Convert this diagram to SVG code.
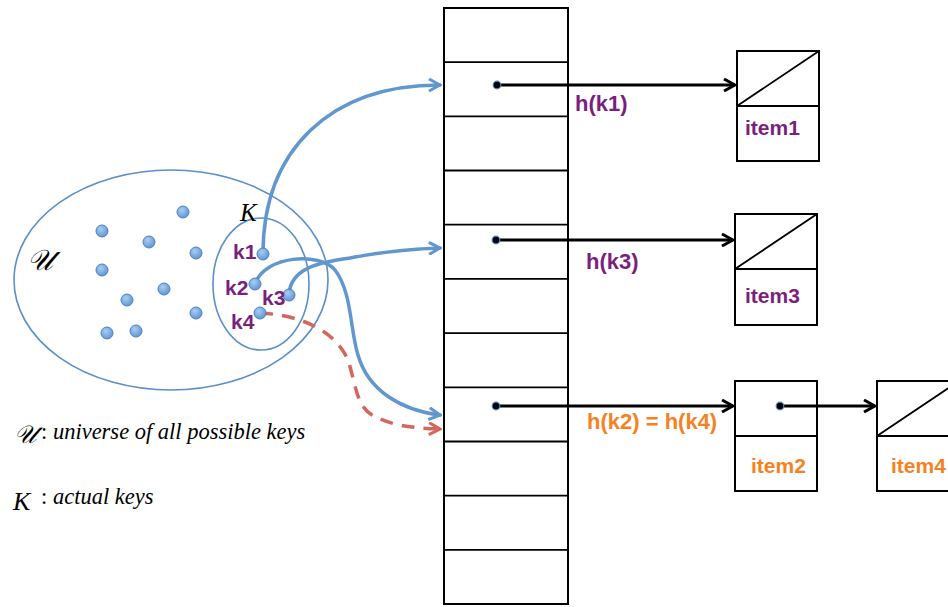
<svg xmlns="http://www.w3.org/2000/svg" width="948" height="607" viewBox="0 0 948 607">
<style>
.lab{font-family:"Liberation Sans",Arial,sans-serif;font-weight:bold;font-size:21px}
.pur{fill:#7b1f7e}
.org{fill:#f7811f}
.ser{font-family:"Liberation Serif","Times New Roman",serif;font-style:italic}
.ell{fill:none;stroke:#5b8fc9;stroke-width:1.6}
.dot{fill:url(#dg);stroke:#4d80c0;stroke-width:1}
.box{fill:#fff;stroke:#000;stroke-width:2}
.ln{stroke:#000;stroke-width:1.8;fill:none}
.blue{fill:none;stroke:#6196cf;stroke-width:3.5;stroke-linecap:round}
.red{fill:none;stroke:#d4675d;stroke-width:3.5;stroke-dasharray:13 9}
.blk{fill:none;stroke:#000;stroke-width:3.2}
</style>
<defs>
<radialGradient id="dg" cx="0.4" cy="0.35" r="0.7">
<stop offset="0" stop-color="#a9cdf2"/>
<stop offset="1" stop-color="#5c93d3"/>
</radialGradient>
<marker id="ab" viewBox="0 0 14 14" refX="12" refY="7" markerWidth="14" markerHeight="14" markerUnits="userSpaceOnUse" orient="auto">
<path d="M1,1 L12,7 L1,13" fill="none" stroke="#6196cf" stroke-width="3"/>
</marker>
<marker id="ar" viewBox="0 0 14 14" refX="12" refY="7" markerWidth="14" markerHeight="14" markerUnits="userSpaceOnUse" orient="auto">
<path d="M1,1 L12,7 L1,13" fill="none" stroke="#d4675d" stroke-width="3"/>
</marker>
<marker id="ak" viewBox="0 0 14 14" refX="12" refY="7" markerWidth="14" markerHeight="14" markerUnits="userSpaceOnUse" orient="auto">
<path d="M1,1 L12,7 L1,13" fill="none" stroke="#000" stroke-width="3"/>
</marker>
</defs>

<g id="universe">
<ellipse class="ell" cx="171" cy="280" rx="157" ry="110"/>
<text x="27" y="270" class="ser" font-size="29">𝒰</text>
<circle class="dot" cx="102" cy="231" r="6"/>
<circle class="dot" cx="183" cy="212" r="6"/>
<circle class="dot" cx="149" cy="242" r="6"/>
<circle class="dot" cx="196" cy="253" r="6"/>
<circle class="dot" cx="102" cy="270" r="6"/>
<circle class="dot" cx="164" cy="289" r="6"/>
<circle class="dot" cx="127" cy="300" r="6"/>
<circle class="dot" cx="196" cy="313" r="6"/>
<circle class="dot" cx="107" cy="333" r="6"/>
<circle class="dot" cx="136" cy="331" r="6"/>
</g>

<g id="keys">
<ellipse class="ell" cx="261" cy="284" rx="48" ry="66"/>
<text x="240" y="221" class="ser" font-size="25">K</text>
</g>

<g id="table">
<rect class="box" x="444" y="8" width="124" height="596"/>
<path class="ln" d="M444,62.2H568M444,116.4H568M444,170.5H568M444,224.7H568M444,278.9H568M444,333.1H568M444,387.3H568M444,441.5H568M444,495.6H568M444,549.8H568"/>
</g>

<g id="item1">
<rect class="box" x="737" y="51" width="82" height="110"/>
<path class="ln" d="M737,106H819M737,106L819,51"/>
<text x="745" y="135" class="lab pur">item1</text>
</g>
<g id="item3">
<rect class="box" x="735" y="214" width="82" height="111"/>
<path class="ln" d="M735,269H817M735,269L817,214"/>
<text x="745" y="303" class="lab pur">item3</text>
</g>
<g id="item2">
<rect class="box" x="735" y="381" width="82" height="110"/>
<path class="ln" d="M735,436H817"/>
<text x="751" y="473" class="lab org">item2</text>
</g>
<g id="item4">
<rect class="box" x="877" y="381" width="82" height="110"/>
<path class="ln" d="M877,436H959M877,436L959,381"/>
<text x="891" y="473" class="lab org">item4</text>
</g>

<g id="connectors">
<path class="blue" d="M263,254 C263,150 330,85 440,85" marker-end="url(#ab)"/>
<path class="blue" d="M289,295 C290,268 320,262 350,258 C380,252 410,249 440,248" marker-end="url(#ab)"/>
<path class="blue" d="M255,284 C265,255 320,252 335,270 C352,292 350,330 358,355 C368,390 400,410 440,415" marker-end="url(#ab)"/>
<path class="red" d="M260,313 C300,315 335,330 348,360 C356,385 356,405 372,415 C390,425 410,428 440,429" marker-end="url(#ar)"/>
<path class="blk" d="M497,85H735" marker-end="url(#ak)"/>
<path class="blk" d="M496,240H733" marker-end="url(#ak)"/>
<path class="blk" d="M496,406H733" marker-end="url(#ak)"/>
<path class="blk" d="M780,406H875" marker-end="url(#ak)"/>
<g fill="#000" stroke="#4d80c0" stroke-width="1.2">
<circle cx="497" cy="85" r="3.8"/>
<circle cx="496" cy="240" r="3.8"/>
<circle cx="496" cy="406" r="3.8"/>
<circle cx="780" cy="406" r="3.8"/>
</g>
</g>

<g id="keydots">
<circle class="dot" cx="263" cy="254" r="6"/>
<circle class="dot" cx="255" cy="284" r="6"/>
<circle class="dot" cx="289" cy="295" r="6"/>
<circle class="dot" cx="260" cy="313" r="6"/>
<text x="233" y="259" class="lab pur">k1</text>
<text x="225" y="295" class="lab pur">k2</text>
<text x="262" y="305" class="lab pur">k3</text>
<text x="231" y="329" class="lab pur">k4</text>
</g>

<g id="hashlabels">
<text x="575" y="111" class="lab pur" style="font-size:22px">h(k1)</text>
<text x="586" y="269" class="lab pur" style="font-size:22px">h(k3)</text>
<text x="587" y="429" class="lab org" style="font-size:22px">h(k2) = h(k4)</text>
</g>

<g id="legend">
<text x="14" y="443" class="ser" font-size="25">𝒰</text>
<text x="41" y="439" class="ser" font-size="22.5"><tspan font-style="normal">:</tspan> universe of all possible keys</text>
<text x="13" y="510" class="ser" font-size="26">K</text>
<text x="41" y="504" class="ser" font-size="22.5"><tspan font-style="normal">:</tspan> actual keys</text>
</g>
</svg>
